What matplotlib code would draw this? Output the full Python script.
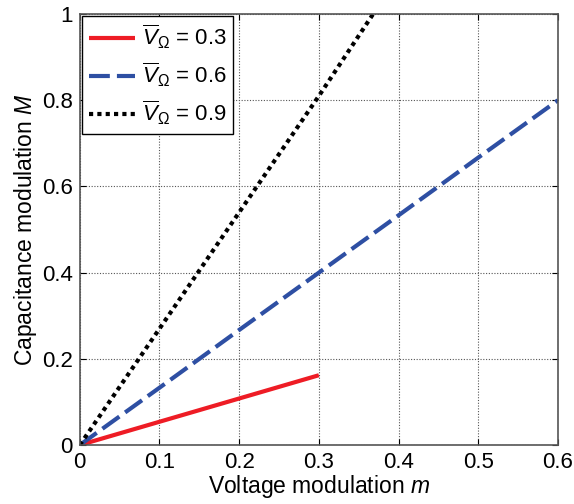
import numpy as np
import matplotlib.pyplot as plt

plt.rcParams['font.family'] = ['Liberation Sans', 'DejaVu Sans']
plt.rcParams['mathtext.fontset'] = 'custom'
plt.rcParams['mathtext.it'] = 'Liberation Sans:italic'
plt.rcParams['mathtext.rm'] = 'Liberation Sans'

# valores
m_03 = [0, 0.1, 0.2, 0.3]
M_03 = [0, 0.054, 0.108, 0.162]

m_06 = [0, 0.1, 0.2, 0.3, 0.4, 0.5, 0.6]
M_06 = [0, 0.133, 0.267, 0.4, 0.533, 0.667, 0.8]

m_09 = [0, 0.1, 0.2, 0.3, 0.368]
M_09 = [0, 0.27, 0.54, 0.81, 1.0]

etiquetas = [r'$\overline{V}_{\Omega}$ = 0.3',
             r'$\overline{V}_{\Omega}$ = 0.6',
             r'$\overline{V}_{\Omega}$ = 0.9']

fig = plt.figure(figsize=(5.74, 5.04), dpi=100)
ax = fig.add_axes([0.139, 0.117, 0.833, 0.855])

ax.plot(m_03, M_03, color='#ee1c25', lw=3, solid_capstyle='butt', label=etiquetas[0])
ax.plot(m_06, M_06, color='#2e4fa3', lw=3, dashes=(5, 1.7), label=etiquetas[1])
ax.plot(m_09, M_09, color='black', lw=3, dashes=(1, 1), label=etiquetas[2])

ax.set_xlim(0, 0.6)
ax.set_ylim(0, 1)
ax.set_xticks(np.arange(0, 0.61, 0.1))
ax.set_xticklabels(['0', '0.1', '0.2', '0.3', '0.4', '0.5', '0.6'])
ax.set_yticks(np.arange(0, 1.01, 0.2))
ax.set_yticklabels(['0', '0.2', '0.4', '0.6', '0.8', '1'])
ax.tick_params(direction='in', length=4, labelsize=16, top=True, right=True, pad=5)
ax.grid(True, color='#555555', linestyle=(0, (1, 1.5)), linewidth=0.8)

for s in ax.spines.values():
    s.set_color('#555555')
    s.set_linewidth(1.2)

ax.set_xlabel(r'Voltage modulation $m$', fontsize=16.5, labelpad=0)
ax.set_ylabel(r'Capacitance modulation $M$', fontsize=16.5, labelpad=2)

leg = ax.legend(loc='upper left', fontsize=16, fancybox=False, edgecolor='black',
                framealpha=1, borderaxespad=0.1, handlelength=2.1, handletextpad=0.3,
                labelspacing=0.45, borderpad=0.3)
leg.get_frame().set_linewidth(1)

plt.savefig('out.png', dpi=100)
